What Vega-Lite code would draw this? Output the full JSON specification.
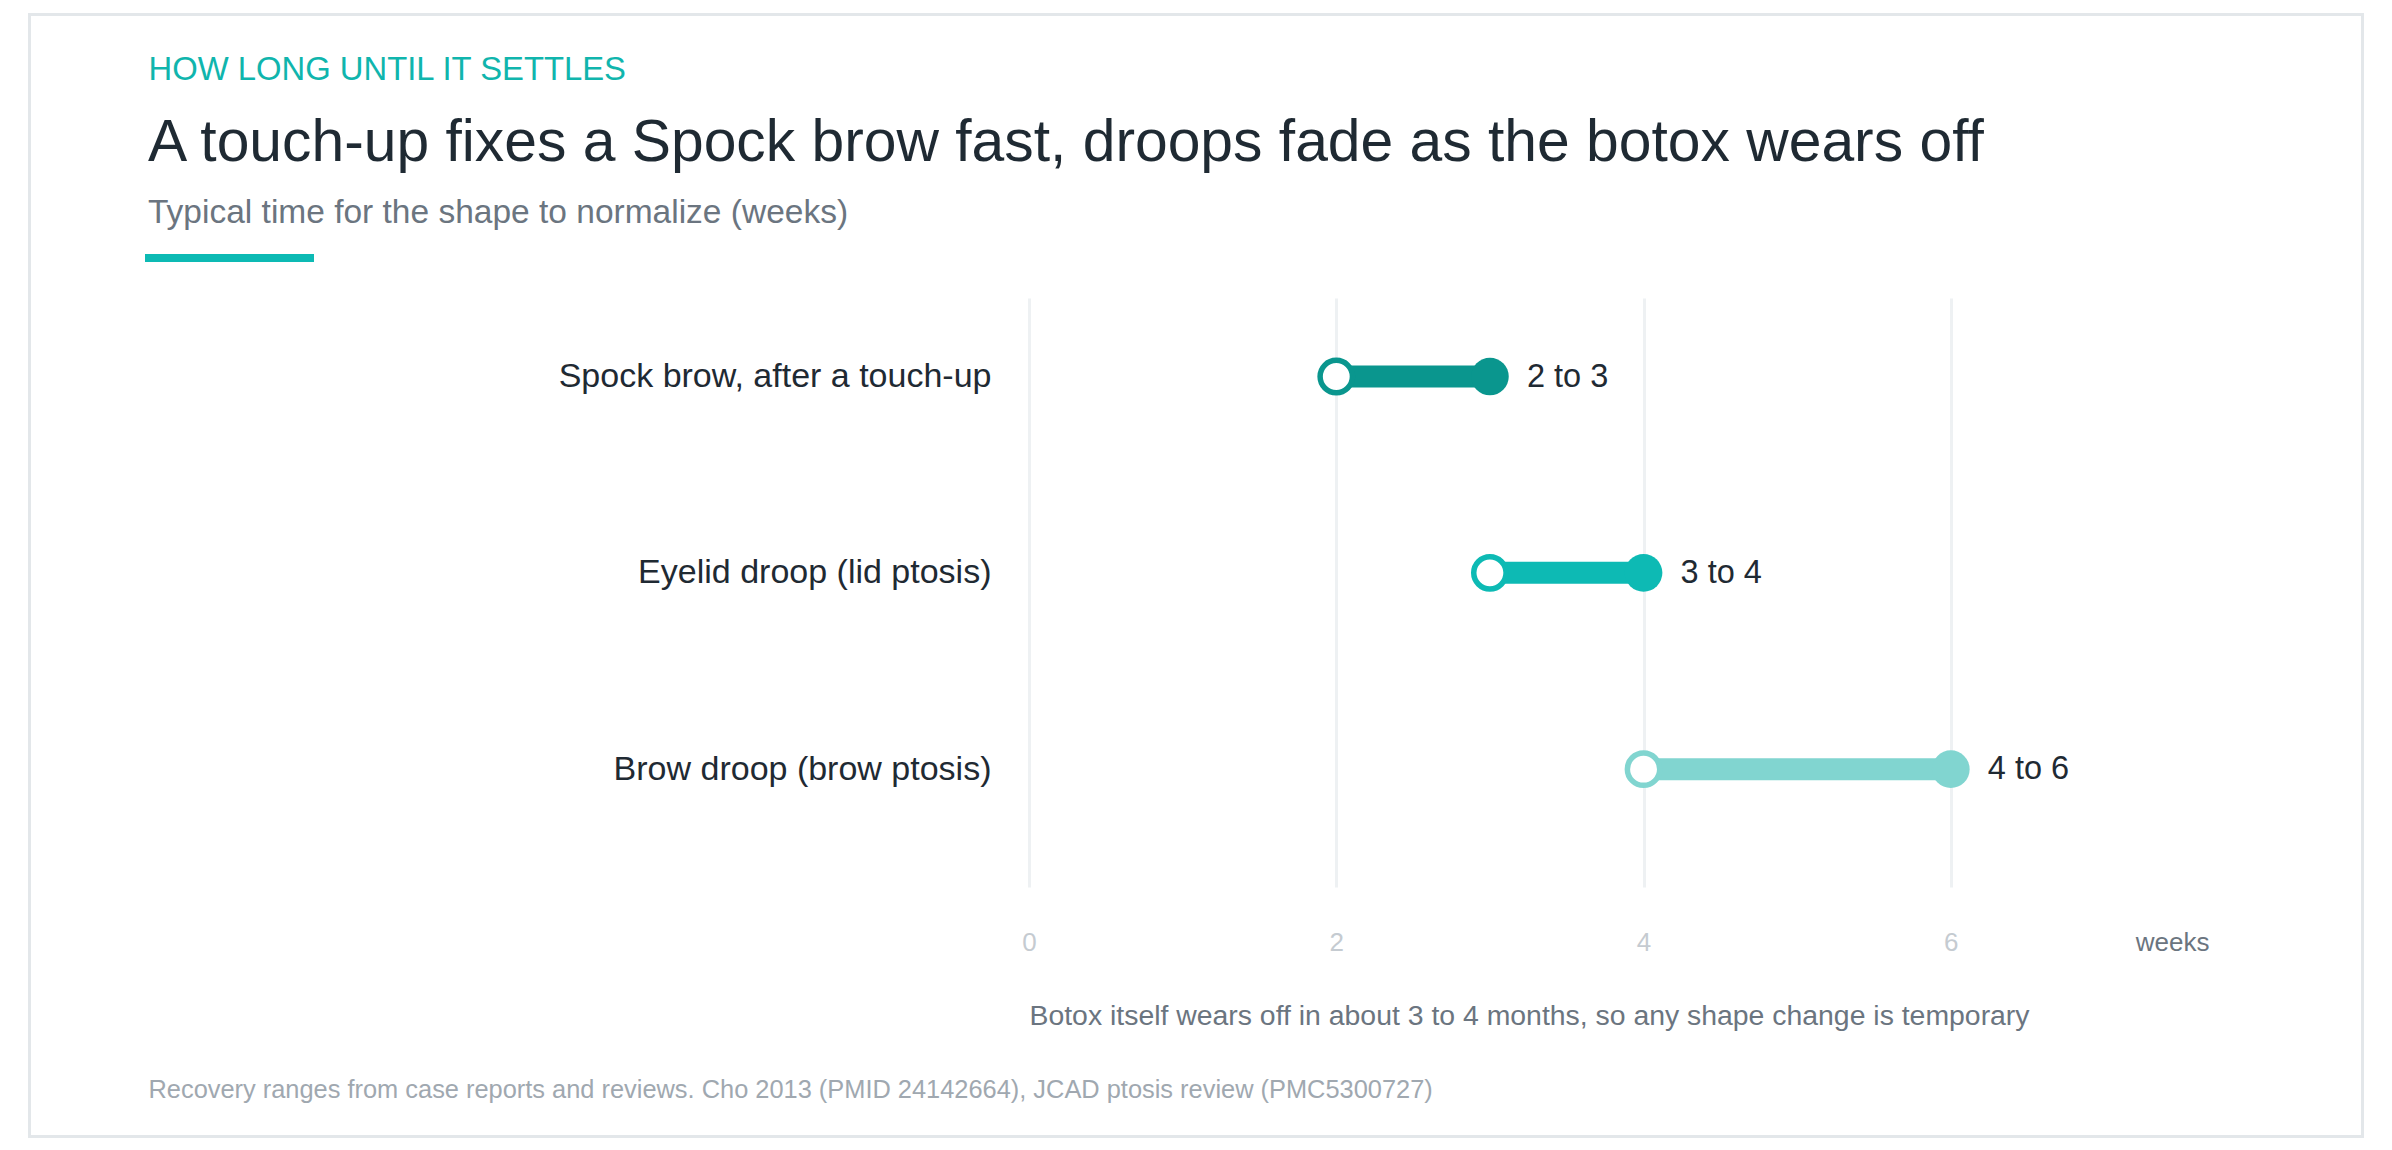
{
  "$schema": "https://vega.github.io/schema/vega-lite/v6.json",
  "autosize": {"type": "none"},
  "width": 1183,
  "height": 589,
  "padding": {"left": 1029, "top": 298, "right": 180, "bottom": 263},
  "background": "white",
  "title": {
    "text": "A touch-up fixes a Spock brow fast, droops fade as the botox wears off",
    "subtitle": "Typical time for the shape to normalize (weeks)",
    "anchor": "start",
    "frame": "group",
    "dx": -881,
    "offset": -216,
    "font": "Liberation Sans",
    "fontSize": 58.8,
    "fontWeight": "normal",
    "color": "#1f2a33",
    "subtitleFont": "Liberation Sans",
    "subtitleFontSize": 33.5,
    "subtitleColor": "#6b7580",
    "subtitlePadding": 23.5
  },
  "data": {
    "values": [
      {"condition": "Spock brow, after a touch-up", "start": 2, "end": 3, "label": "2 to 3"},
      {"condition": "Eyelid droop (lid ptosis)", "start": 3, "end": 4, "label": "3 to 4"},
      {"condition": "Brow droop (brow ptosis)", "start": 4, "end": 6, "label": "4 to 6"}
    ]
  },
  "resolve": {"axis": {"x": "independent", "y": "independent"}},
  "layer": [
    {
      "mark": {"type": "rule", "strokeWidth": 22, "strokeCap": "butt"},
      "encoding": {
        "x": {
          "field": "start", "type": "quantitative",
          "scale": {"domain": [0, 7.7], "nice": false, "zero": false},
          "axis": {
            "orient": "bottom",
            "values": [0, 2, 4, 6, 7.44],
            "labelExpr": "datum.value > 7 ? 'weeks' : datum.label",
            "labelColor": {"condition": {"test": "datum.value > 7", "value": "#6b7580"}, "value": "#c5cbd1"},
            "gridOpacity": {"condition": {"test": "datum.value > 7", "value": 0}, "value": 1},
            "grid": true,
            "gridColor": "#eef1f3",
            "gridWidth": 3,
            "ticks": false,
            "tickSize": 0,
            "domain": false,
            "labelFlush": false,
            "labelOverlap": false,
            "labelFont": "Liberation Sans",
            "labelFontSize": 26,
            "labelPadding": 63,
            "labelBaseline": "alphabetic",
            "title": "Botox itself wears off in about 3 to 4 months, so any shape change is temporary",
            "titleFont": "Liberation Sans",
            "titleFontSize": 28.4,
            "titleFontWeight": "normal",
            "titleColor": "#6b7580",
            "titleAnchor": "start",
            "titleAlign": "left",
            "titleBaseline": "alphabetic",
            "titleX": 0,
            "titleY": 137
          }
        },
        "x2": {"field": "end"},
        "y": {
          "field": "condition", "type": "nominal", "sort": null,
          "scale": {"type": "point", "padding": 0.5, "align": 0.4},
          "axis": {
            "orient": "left",
            "ticks": false,
            "tickSize": 0,
            "domain": false,
            "grid": false,
            "labelFont": "Liberation Sans",
            "labelFontSize": 34,
            "labelColor": "#1f2a33",
            "labelPadding": 38,
            "labelLimit": 1000,
            "labelBaseline": "middle",
            "title": "HOW LONG UNTIL IT SETTLES",
            "titleFont": "Liberation Sans",
            "titleFontSize": 32.8,
            "titleFontWeight": "normal",
            "titleColor": "#10b5ad",
            "titleAngle": 0,
            "titleAlign": "left",
            "titleBaseline": "alphabetic",
            "titleX": -881,
            "titleY": -218.5
          }
        },
        "color": {
          "field": "condition", "type": "nominal",
          "scale": {
            "domain": ["Spock brow, after a touch-up", "Eyelid droop (lid ptosis)", "Brow droop (brow ptosis)"],
            "range": ["#0a968e", "#0dbab4", "#81d5d0"]
          },
          "legend": null
        }
      }
    },
    {
      "mark": {"type": "point", "shape": "circle", "filled": false, "fill": "white", "fillOpacity": 1, "strokeWidth": 5.5, "size": 1046, "opacity": 1},
      "encoding": {
        "x": {"field": "start", "type": "quantitative", "axis": null},
        "y": {"field": "condition", "type": "nominal", "sort": null, "axis": null},
        "color": {"field": "condition", "type": "nominal", "legend": null}
      }
    },
    {
      "mark": {"type": "point", "shape": "circle", "filled": true, "size": 1419, "opacity": 1},
      "encoding": {
        "x": {"field": "end", "type": "quantitative", "axis": null},
        "y": {"field": "condition", "type": "nominal", "sort": null, "axis": null},
        "color": {"field": "condition", "type": "nominal", "legend": null}
      }
    },
    {
      "mark": {"type": "text", "align": "left", "baseline": "middle", "dx": 37, "font": "Liberation Sans", "fontSize": 32.5, "color": "#1f2a33"},
      "encoding": {
        "x": {"field": "end", "type": "quantitative", "axis": null},
        "y": {
          "field": "condition", "type": "nominal", "sort": null,
          "axis": {
            "orient": "right",
            "labels": false,
            "ticks": false,
            "domain": false,
            "grid": false,
            "title": "Recovery ranges from case reports and reviews. Cho 2013 (PMID 24142664), JCAD ptosis review (PMC5300727)",
            "titleFont": "Liberation Sans",
            "titleFontSize": 25.4,
            "titleFontWeight": "normal",
            "titleColor": "#a0a8b0",
            "titleAngle": 0,
            "titleAlign": "left",
            "titleBaseline": "alphabetic",
            "titleX": -2064,
            "titleY": 799
          }
        },
        "text": {"field": "label"}
      }
    },
    {
      "mark": {"type": "point", "opacity": 0},
      "encoding": {
        "x": {"field": "start", "type": "quantitative", "axis": null},
        "y": {"field": "condition", "type": "nominal", "sort": null, "axis": null},
        "fill": {
          "field": "start", "type": "quantitative",
          "scale": {"range": ["#0dbab4", "#0dbab4"]},
          "legend": {
            "orient": "none", "legendX": -884, "legendY": -44,
            "direction": "horizontal", "title": null,
            "gradientLength": 169, "gradientThickness": 8,
            "gradientStrokeWidth": 0, "padding": 0,
            "labelExpr": "''", "labelFontSize": 1
          }
        },
        "stroke": {
          "field": "end", "type": "quantitative",
          "scale": {"range": ["rgba(255,255,255,0)", "rgba(255,255,255,0)"]},
          "legend": {
            "orient": "none", "legendX": -999.5, "legendY": -283.5,
            "direction": "horizontal", "title": null,
            "gradientLength": 2333, "gradientThickness": 1122,
            "gradientStrokeColor": "#e3e7ea", "gradientStrokeWidth": 3,
            "padding": 0,
            "labelExpr": "''", "labelFontSize": 1
          }
        }
      }
    }
  ],
  "config": {
    "view": {"stroke": null},
    "font": "Liberation Sans"
  }
}
